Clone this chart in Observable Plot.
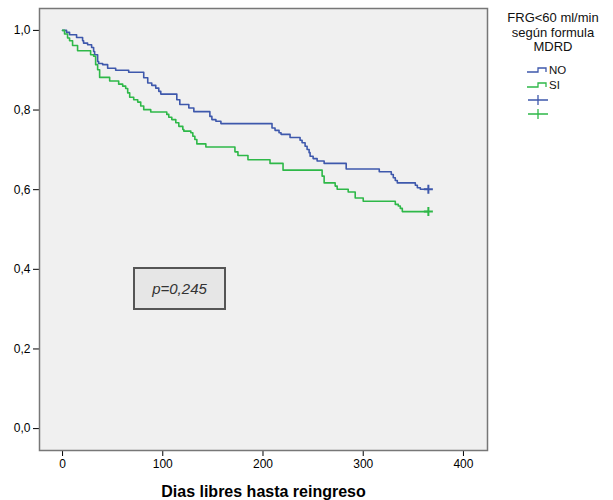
<!DOCTYPE html>
<html>
<head>
<meta charset="utf-8">
<script src="https://cdn.jsdelivr.net/npm/d3@7"></script>
<script src="https://cdn.jsdelivr.net/npm/@observablehq/plot@0.6"></script>
<style>
  html, body { margin: 0; padding: 0; background: #fff; }
  #wrap { position: relative; width: 613px; height: 500px; font-family: "Liberation Sans", Arial, sans-serif; }
  #pbox { position: absolute; left: 133px; top: 267px; width: 93px; height: 43px; box-sizing: border-box;
          border: 2px solid #555; background: #e6e6e6; display: flex; align-items: center; justify-content: center;
          font-style: italic; font-size: 15px; color: #333; }
  #legend { position: absolute; left: 490px; top: 0; }
</style>
</head>
<body>
<div id="wrap"></div>
<script>
// ---- data ----
const groups = ["NO", "SI"];
const groupColors = ["#3e58ac", "#2eb848"];
const legendTitle = ["FRG<60 ml/min", "según formula", "MDRD"];
const xLabel = "Dias libres hasta reingreso";
const pText = "p=0,245";
const xTicks = [0, 100, 200, 300, 400];
const yTicks = [0, 0.2, 0.4, 0.6, 0.8, 1.0];

// Kaplan-Meier step points: NO (blue)
const daysNO = [0,4,7,14,20,21,25,29,31,32,35,36,40,45,53,66,81,85,89,93,96,98,114,117,126,131,147,149,153,158,209,212,216,218,227,237,239,242,244,246,247,250,254,261,283,316,328,330,332,334,352,354,357];
const survNO = [1,0.995,0.989,0.982,0.974,0.968,0.964,0.957,0.947,0.939,0.922,0.917,0.914,0.905,0.900,0.895,0.881,0.868,0.862,0.855,0.847,0.840,0.826,0.814,0.805,0.796,0.784,0.776,0.772,0.766,0.755,0.749,0.743,0.739,0.731,0.724,0.718,0.709,0.701,0.693,0.684,0.678,0.672,0.666,0.652,0.645,0.638,0.630,0.623,0.617,0.611,0.605,0.601];
// SI (green)
const daysSI = [0,2,5,7,10,15,28,31,33,35,37,47,56,60,63,65,67,71,75,78,81,88,104,106,109,113,116,120,121,128,130,132,134,143,172,175,185,207,220,259,261,272,274,285,292,300,332,335,337,339];
const survSI = [1,0.991,0.981,0.974,0.962,0.949,0.939,0.935,0.914,0.901,0.882,0.873,0.865,0.860,0.854,0.843,0.832,0.826,0.820,0.810,0.801,0.795,0.789,0.782,0.776,0.768,0.759,0.751,0.747,0.743,0.734,0.726,0.715,0.707,0.695,0.686,0.675,0.666,0.649,0.634,0.617,0.609,0.601,0.594,0.579,0.571,0.563,0.559,0.553,0.545];
// censored at end of follow-up
const censorDay = [365, 365];

// ---- build tables ----
const series = [[daysNO, survNO], [daysSI, survSI]];
const rows = [];
const cens = [];
series.forEach(([d, s], i) => {
  d.forEach((t, j) => rows.push({group: groups[i], t, s: s[j]}));
  rows.push({group: groups[i], t: censorDay[i], s: s[s.length - 1]});
  cens.push({group: groups[i], t: censorDay[i], s: s[s.length - 1]});
});

const plusSymbol = {
  draw(ctx, size) {
    const r = Math.sqrt(size / Math.PI);
    ctx.moveTo(-r, 0); ctx.lineTo(r, 0);
    ctx.moveTo(0, -r); ctx.lineTo(0, r);
  }
};

const chart = Plot.plot({
  width: 613,
  height: 500,
  marginLeft: 39,
  marginRight: 126,
  marginTop: 8,
  marginBottom: 50,
  style: {fontFamily: "'Liberation Sans', Arial, sans-serif", fontSize: "12px", background: "#fff", color: "#000"},
  x: {domain: [-23, 424], ticks: xTicks, tickSize: 6, tickPadding: 3, label: null},
  y: {domain: [-0.055, 1.055], ticks: yTicks, tickSize: 6, tickPadding: 3, label: null,
      tickFormat: d => d.toFixed(1).replace(".", ",")},
  color: {domain: groups, range: groupColors},
  marks: [
    Plot.frame({fill: "#f0f0f0"}),
    Plot.line(rows, {x: "t", y: "s", z: "group", stroke: "group", curve: "step-after", strokeWidth: 1.6}),
    Plot.dot(cens, {x: "t", y: "s", stroke: "group", fill: "none", symbol: plusSymbol, r: 4.5, strokeWidth: 2}),
    Plot.frame({stroke: "#777", strokeWidth: 1.5}),
    Plot.text([xLabel], {frameAnchor: "bottom", dy: 41, lineAnchor: "middle", fontWeight: "bold", fontSize: 16, fill: "#000"})
  ]
});

const wrap = document.getElementById("wrap");
wrap.appendChild(chart);

// p-value annotation box
const pbox = document.createElement("div");
pbox.id = "pbox";
pbox.textContent = pText;
wrap.appendChild(pbox);

// legend
const ns = "http://www.w3.org/2000/svg";
const lg = document.createElementNS(ns, "svg");
lg.setAttribute("id", "legend");
lg.setAttribute("width", 123);
lg.setAttribute("height", 130);
lg.setAttribute("font-family", "'Liberation Sans', Arial, sans-serif");
const mk = (tag, attrs, text) => {
  const el = document.createElementNS(ns, tag);
  for (const k in attrs) el.setAttribute(k, attrs[k]);
  if (text != null) el.textContent = text;
  lg.appendChild(el);
  return el;
};
legendTitle.forEach((t, i) => mk("text", {x: 63, y: 19 + i * 14.3, "text-anchor": "middle", "dominant-baseline": "middle", "font-size": 13, fill: "#111"}, t));
groups.forEach((g, i) => {
  const y = 72 + i * 15;
  mk("path", {d: `M37,${y} H48 V${y - 4} H56 V${y}`, fill: "none", stroke: groupColors[i], "stroke-width": 1.3});
  mk("text", {x: 59, y: y - 1, "dominant-baseline": "middle", "font-size": 11.5, fill: "#111"}, g);
});
groups.forEach((g, i) => {
  const y = 100 + i * 14;
  mk("path", {d: `M38,${y} H58 M48,${y - 5} V${y + 5}`, fill: "none", stroke: groupColors[i], "stroke-width": 1.3});
});
wrap.appendChild(lg);
</script>
</body>
</html>
